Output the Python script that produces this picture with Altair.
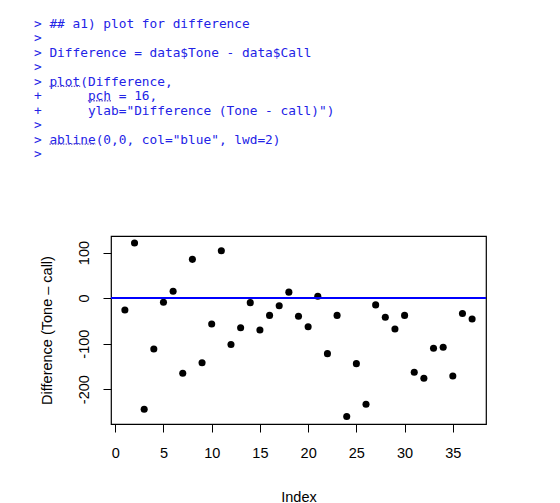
import altair as alt
import pandas as pd

# --- data ---
index = list(range(1, 38))
difference = [-26, 121, -244, -112, -9, 15, -165, 85, -142, -57,
              104, -102, -65, -10, -70, -38, -17, 13, -40, -63,
              4, -122, -38, -260, -144, -233, -15, -42, -68, -38,
              -163, -176, -110, -108, -171, -34, -46]

x_ticks = [0, 5, 10, 15, 20, 25, 30, 35]
y_ticks = [-200, -100, 0, 100]

code_prompts = [">", ">", ">", ">", ">", "+", "+", ">", ">", ">"]
code_indent = [0, 0, 0, 0, 0, 5, 5, 0, 0, 0]
code_lines = [
    "## a1) plot for difference",
    "",
    "Difference = data$Tone - data$Call",
    "",
    "plot(Difference,",
    "pch = 16,",
    'ylab="Difference (Tone - call)")',
    "",
    'abline(0,0, col="blue", lwd=2)',
    "",
]
# spell-check squiggles: (line, start char, length)
squiggle_line = [4, 5, 8]
squiggle_start = [0, 5, 0]
squiggle_len = [4, 3, 6]

pts = pd.DataFrame({"index": index, "difference": difference})
code = pd.DataFrame({"line": list(range(len(code_lines))),
                     "prompt": code_prompts, "indent": code_indent,
                     "text": code_lines})
sq = pd.DataFrame({"line": squiggle_line, "start": squiggle_start,
                   "n": squiggle_len})

W, H = 375, 188
CH = 7.7      # monospace char advance
LINE = 14.45  # line spacing
TOP = -212    # first code line centre relative to plot top
PX = -77      # prompt x relative to plot left
CX = -61.6    # code x relative to plot left

xscale = alt.Scale(domain=[-0.44, 38.44], nice=False, zero=False)
yscale = alt.Scale(domain=[-276.5, 136.3], nice=False, zero=False)

xaxis = alt.Axis(values=x_ticks, title="Index", grid=False, domain=False,
                 tickSize=8, tickColor="black", tickWidth=1,
                 labelFont="Liberation Sans", labelFontSize=14.5,
                 labelColor="black", labelBaseline="alphabetic",
                 labelPadding=25, labelFlush=False,
                 labelExpr="datum.value",
                 titleFont="Liberation Sans", titleFontSize=14.5,
                 titleFontWeight="normal", titleColor="black",
                 titleBaseline="middle", titleX=W / 2, titleY=73)
yaxis = alt.Axis(values=y_ticks, title="Difference (Tone \u2013 call)",
                 grid=False, domain=False,
                 tickSize=8, tickColor="black", tickWidth=1,
                 labelFont="Liberation Sans", labelFontSize=14.5,
                 labelColor="black", labelAngle=270, labelAlign="center",
                 labelBaseline="alphabetic", labelPadding=14.5,
                 labelFlush=False, labelExpr="datum.value",
                 titleFont="Liberation Sans", titleFontSize=14.5,
                 titleFontWeight="normal", titleColor="black",
                 titleAngle=270, titleAlign="center", titleBaseline="middle",
                 titleX=-64, titleY=H / 2)

points = alt.Chart(pts).mark_circle(size=50, color="black", opacity=1).encode(
    x=alt.X("index:Q", scale=xscale, axis=xaxis),
    y=alt.Y("difference:Q", scale=yscale, axis=yaxis),
)

hline = alt.Chart(pd.DataFrame({"v": [0]})).mark_rule(
    color="#0000FF", strokeWidth=2).encode(
    y=alt.Y("v:Q", scale=yscale, axis=yaxis))

txt_color = "#2323e6"
prompt_txt = alt.Chart(code).transform_calculate(
    py=f"{TOP} + datum.line * {LINE}", px=f"{PX}"
).mark_text(font="DejaVu Sans Mono", fontSize=12.8, color=txt_color,
            align="left", baseline="middle").encode(
    x=alt.X("px:Q", scale=None),
    y=alt.Y("py:Q", scale=None),
    text="prompt:N")

code_txt = alt.Chart(code).transform_calculate(
    py=f"{TOP} + datum.line * {LINE}",
    px=f"{CX} + datum.indent * {CH}"
).mark_text(font="DejaVu Sans Mono", fontSize=12.8, color=txt_color,
            align="left", baseline="middle").encode(
    x=alt.X("px:Q", scale=None),
    y=alt.Y("py:Q", scale=None),
    text="text:N")

squig = alt.Chart(sq).transform_calculate(
    py=f"{TOP} + datum.line * {LINE} + 4.5",
    px=f"{CX} + datum.start * {CH}",
    px2=f"{CX} + (datum.start + datum.n) * {CH}"
).mark_rule(color="#6a5ad0", strokeWidth=1.3, strokeDash=[1.5, 1.2]).encode(
    x=alt.X("px:Q", scale=None),
    x2="px2:Q",
    y=alt.Y("py:Q", scale=None))

chart = alt.layer(points, hline, prompt_txt, code_txt, squig).properties(
    width=W, height=H,
    autosize=alt.AutoSizeParams(type="none"),
    padding={"left": 111, "top": 236, "right": 74, "bottom": 79},
    background="white",
).configure_view(stroke="black", strokeWidth=1.2)

chart.save("out.html", embed_options={"renderer": "svg", "actions": False})
